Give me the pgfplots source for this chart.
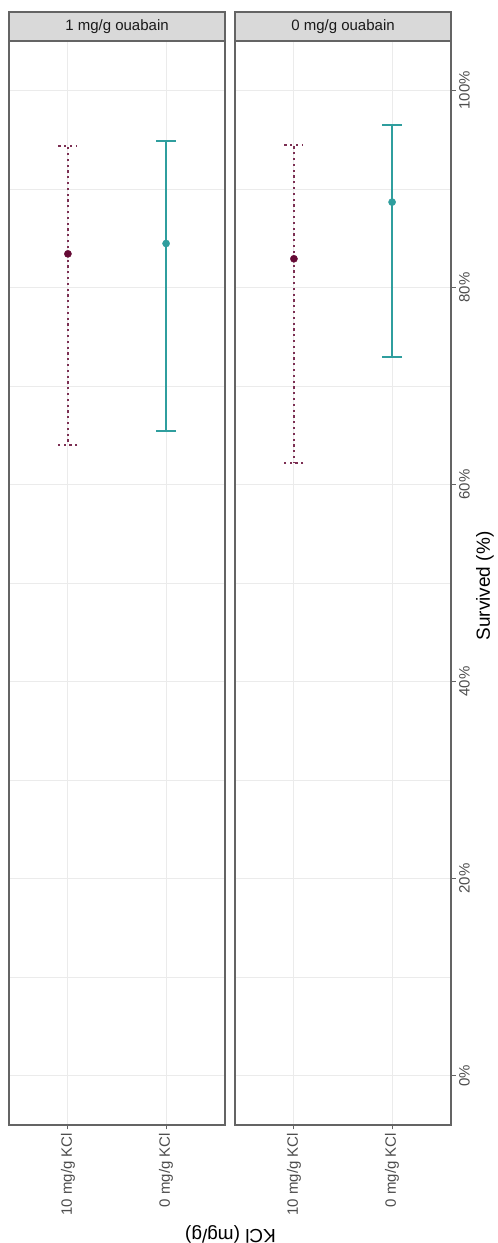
\documentclass[border=0pt]{standalone}
\usepackage{pgfplots}
\pgfplotsset{compat=1.18}
\usepackage{fontspec}
\setmainfont{Liberation Sans}
\definecolor{maroonc}{HTML}{650A35}
\definecolor{tealc}{HTML}{2F9E9E}
\definecolor{gridc}{HTML}{EBEBEB}
\definecolor{borderc}{HTML}{646464}
\definecolor{tickc}{HTML}{4D4D4D}
\definecolor{stripc}{HTML}{D9D9D9}
\definecolor{stript}{HTML}{1A1A1A}
\pgfplotsset{
  panel/.style={
    scale only axis, width=216bp, height=1084bp,
    xmin=-0.6, xmax=1.6, ymin=-5, ymax=105,
    xtick={0,1}, xticklabels={10 mg/g KCl, 0 mg/g KCl},
    ytick={0,20,...,100}, minor ytick={10,30,50,70,90},
    grid=both,
    major grid style={gridc, line width=1.1bp},
    minor grid style={gridc, line width=0.6bp},
    axis line style={borderc, line width=1.1bp},
    tick align=outside, major tick length=4.5bp, minor tick length=0pt,
    tick style={borderc, line width=1.1bp},
    xtick pos=bottom,
    xticklabel style={rotate=90, anchor=east, font=\fontsize{15bp}{18bp}\selectfont, text=tickc},
    /pgf/number format/assume math mode=true,
  },
  mpt/.style={only marks, mark=*, mark size=3.6bp, color=maroonc,
    error bars/.cd, y dir=both, y explicit, error mark=|,
    error bar style={maroonc!85!white, line width=2bp, dash pattern=on 2.2bp off 3.6bp},
    error mark options={maroonc!85!white, line width=2bp, mark size=9.5bp, dash pattern=on 2.2bp off 3.6bp}},
  tpt/.style={only marks, mark=*, mark size=3.6bp, color=tealc,
    error bars/.cd, y dir=both, y explicit, error mark=|,
    error bar style={tealc, line width=1.7bp, solid},
    error mark options={tealc, line width=1.7bp, mark size=10bp, solid}},
}
\begin{document}
\begin{tikzpicture}[x=1bp,y=1bp]
\useasboundingbox (0,0) rectangle (498,1243);
% left panel: 1 mg/g ouabain
\begin{axis}[panel, name=L, at={(9bp,118bp)}, anchor=south west,
  yticklabels={}, ytick style={draw=none}]
\addplot[mpt] coordinates {(0,83.4) += (0,10.9) -= (0,19.4)};
\addplot[tpt] coordinates {(1,84.45) += (0,10.4) -= (0,19.05)};
\end{axis}
% right panel: 0 mg/g ouabain
\begin{axis}[panel, name=R, at={(235bp,118bp)}, anchor=south west,
  ytick pos=right,
  yticklabel={\pgfmathprintnumber{\tick}\%},
  yticklabel style={rotate=90, anchor=north, font=\fontsize{15bp}{18bp}\selectfont, text=tickc}]
\addplot[mpt] coordinates {(0,82.9) += (0,11.5) -= (0,20.7)};
\addplot[tpt] coordinates {(1,88.65) += (0,7.85) -= (0,15.75)};
\end{axis}
% strips
\draw[borderc, line width=1.1bp, fill=stripc] (L.north west) rectangle ([yshift=29bp]L.north east);
\node[font=\fontsize{15bp}{18bp}\selectfont, text=stript] at ([yshift=14.5bp]L.north) {1 mg/g ouabain};
\draw[borderc, line width=1.1bp, fill=stripc] (R.north west) rectangle ([yshift=29bp]R.north east);
\node[font=\fontsize{15bp}{18bp}\selectfont, text=stript] at ([yshift=14.5bp]R.north) {0 mg/g ouabain};
% axis titles
\node[rotate=90, font=\fontsize{19bp}{22bp}\selectfont] at (485,657) {Survived (\%)};
\node[rotate=180, font=\fontsize{19bp}{22bp}\selectfont] at (230.5,9) {KCl (mg/g)};
\end{tikzpicture}
\end{document}
